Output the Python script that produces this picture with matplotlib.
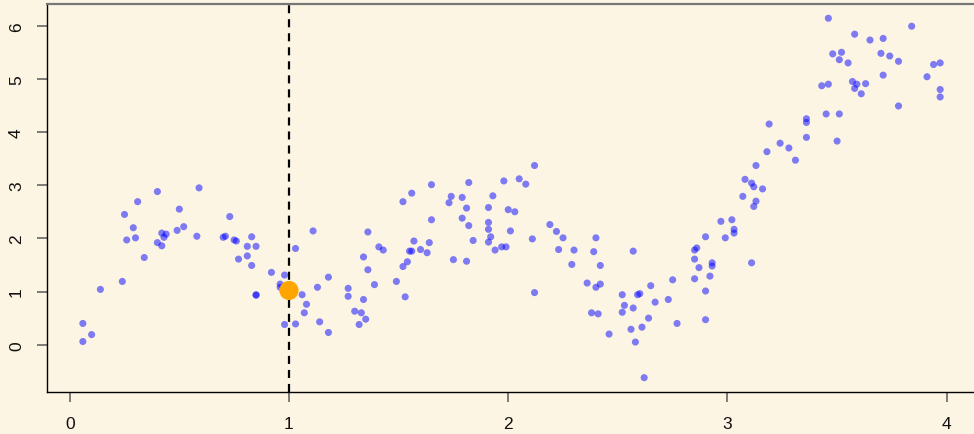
import numpy as np
import matplotlib.pyplot as plt

plt.rcParams['font.family'] = ['Liberation Sans', 'DejaVu Sans']
plt.rcParams['lines.scale_dashes'] = False

# noisy sample points
x = [0.06, 0.06, 0.10, 0.14, 0.24, 0.25, 0.26, 0.29, 0.30, 0.31,
     0.34, 0.40, 0.40, 0.42, 0.42, 0.43, 0.44, 0.49, 0.50, 0.52,
     0.58, 0.59, 0.70, 0.71, 0.73, 0.75, 0.76, 0.77, 0.81, 0.81,
     0.83, 0.83, 0.85, 0.85, 0.85, 0.92, 0.96, 0.96, 0.98, 1.03,
     1.06, 1.08, 1.07, 0.98, 1.03, 1.11, 1.13, 1.18, 1.14, 1.18,
     1.27, 1.27, 1.30, 1.33, 1.32, 1.35, 1.34, 1.34, 1.36, 1.36,
     1.39, 1.41, 1.43, 1.49, 1.53, 1.52, 1.54, 1.52, 1.56, 1.55,
     1.56, 1.57, 1.60, 1.63, 1.64, 1.65, 1.65, 1.73, 1.74, 1.75,
     1.79, 1.79, 1.81, 1.82, 1.81, 1.82, 1.84, 1.91, 1.91, 1.91,
     1.92, 1.91, 1.93, 1.94, 1.97, 1.99, 1.98, 2.00, 2.01, 2.03,
     2.05, 2.08, 2.12, 2.11, 2.12, 2.19, 2.22, 2.25, 2.23, 2.30,
     2.29, 2.40, 2.39, 2.42, 2.36, 2.40, 2.42, 2.38, 2.41, 2.46,
     2.52, 2.53, 2.52, 2.57, 2.56, 2.58, 2.57, 2.59, 2.60, 2.65,
     2.64, 2.61, 2.62, 2.67, 2.73, 2.75, 2.77, 2.85, 2.86, 2.85,
     2.87, 2.90, 2.85, 2.90, 2.90, 2.92, 2.93, 2.93, 2.97, 2.99,
     3.02, 3.03, 3.03, 3.07, 3.08, 3.11, 3.46, 3.58, 3.65, 3.71,
     3.84, 3.48, 3.52, 3.51, 3.55, 3.70, 3.74, 3.78, 3.94, 3.97,
     3.71, 3.91, 3.43, 3.46, 3.57, 3.59, 3.58, 3.63, 3.61, 3.97,
     3.97, 3.78, 3.45, 3.51, 3.19, 3.36, 3.36, 3.36, 3.50, 3.24,
     3.28, 3.31, 3.18, 3.13, 3.11, 3.12, 3.16, 3.13, 3.12]
y = [0.40, 0.06, 0.19, 1.04, 1.19, 2.45, 1.97, 2.20, 2.01, 2.69,
     1.64, 2.88, 1.92, 1.86, 2.10, 2.02, 2.08, 2.15, 2.55, 2.22,
     2.04, 2.95, 2.02, 2.04, 2.41, 1.97, 1.95, 1.61, 1.67, 1.85,
     1.49, 2.03, 1.85, 0.94, 0.93, 1.36, 1.14, 1.08, 1.31, 1.81,
     0.94, 0.76, 0.60, 0.38, 0.39, 2.14, 1.08, 1.27, 0.43, 0.23,
     1.06, 0.91, 0.63, 0.60, 0.38, 0.48, 0.85, 1.65, 1.41, 2.12,
     1.13, 1.84, 1.78, 1.19, 0.90, 1.47, 1.56, 2.69, 2.85, 1.76,
     1.76, 1.95, 1.79, 1.73, 1.92, 2.35, 3.01, 2.67, 2.79, 1.60,
     2.77, 2.38, 2.57, 2.24, 1.57, 3.05, 1.96, 2.58, 2.30, 2.17,
     2.03, 1.93, 2.80, 1.78, 1.84, 1.84, 3.08, 2.54, 2.14, 2.50,
     3.12, 3.02, 3.37, 1.99, 0.98, 2.26, 2.13, 2.01, 1.79, 1.78,
     1.51, 2.01, 1.75, 1.49, 1.16, 1.08, 1.14, 0.60, 0.58, 0.20,
     0.94, 0.74, 0.61, 0.69, 0.29, 0.05, 1.76, 0.94, 0.96, 1.11,
     0.50, 0.33, -0.62, 0.80, 0.85, 1.22, 0.40, 1.78, 1.82, 1.61,
     1.45, 2.03, 1.24, 1.01, 0.47, 1.29, 1.54, 1.48, 2.32, 2.01,
     2.35, 2.17, 2.10, 2.79, 3.11, 1.54, 6.14, 5.84, 5.73, 5.76,
     5.99, 5.47, 5.50, 5.36, 5.30, 5.48, 5.43, 5.33, 5.27, 5.30,
     5.07, 5.04, 4.87, 4.90, 4.95, 4.90, 4.82, 4.91, 4.72, 4.80,
     4.66, 4.49, 4.34, 4.34, 4.15, 4.25, 4.18, 3.90, 3.83, 3.79,
     3.70, 3.47, 3.63, 3.37, 3.04, 2.97, 2.93, 2.70, 2.60]

# highlighted point on the vertical line
x0 = 1.0
y0 = 1.02

bg = '#FDF5E3'
fig = plt.figure(figsize=(9.74, 4.35), dpi=100, facecolor=bg)
ax = fig.add_axes([47 / 974, 42.3 / 435, 930 / 974, 387.7 / 435], facecolor=bg)

ax.axvline(x0, color='black', lw=1.6, dashes=(5.8, 4.3), zorder=1)
ax.scatter(x, y, s=26, color='#0000FF', alpha=0.5, edgecolors='none', zorder=2)
ax.scatter([x0], [y0], s=190, color='#FFA500', edgecolors='none', zorder=3)

ax.set_xlim(-0.1035, 4.138)
ax.set_ylim(-0.884, 6.408)
ax.set_xticks([0, 1, 2, 3, 4])
ax.set_yticks([0, 1, 2, 3, 4, 5, 6])

for side in ['left', 'bottom']:
    ax.spines[side].set_color('black')
    ax.spines[side].set_linewidth(1.0)
ax.spines['top'].set_color('#777777')
ax.spines['top'].set_linewidth(1.6)
ax.spines['right'].set_visible(False)

ax.tick_params(axis='both', length=7.5, width=1.2, color='#666666',
               labelsize=12.5, labelcolor='#111111')
ax.tick_params(axis='x', pad=10)
ax.tick_params(axis='y', pad=9)
for lab in ax.get_yticklabels():
    lab.set_rotation(90)
    lab.set_va('center')

fig.savefig('out.png', dpi=100, facecolor=bg)
